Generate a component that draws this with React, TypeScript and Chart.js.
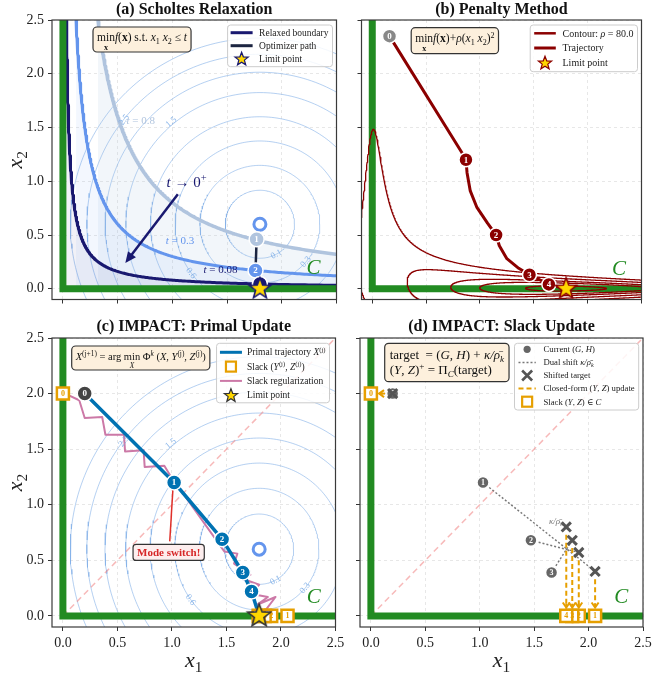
import React, { useEffect, useRef } from 'react';
import { Chart, registerables } from 'chart.js';
Chart.register(...registerables);

const SERIF = "'Liberation Serif', 'DejaVu Serif', 'Times New Roman', serif";

// ---------------- data ----------------
const AXIS_TICKS = [0, 0.5, 1.0, 1.5, 2.0, 2.5];
const AXIS_MIN = -0.1;
const AXIS_MAX = 2.5;

const F_CENTER_X = 1.8;
const F_CENTER_Y = 0.6;
const F_LEVELS = [0.1, 0.3, 0.6, 1.0, 1.5, 2.0, 2.5, 3.0];
const F_LABEL_TEXT = ['0.1', '0.3', '0.6', '1.5', '2.5'];
const F_LABEL_X = [1.95, 2.22, 1.17, 0.99, 0.56];
const F_LABEL_Y = [0.32, 0.25, 0.144, 1.55, 1.57];

const RELAX_T = [0.8, 0.3, 0.08];
const RELAX_COLORS = ['#b0c4de', '#6495ed', '#191970'];
const RELAX_FILLS = ['rgba(176,196,222,0.16)', 'rgba(100,149,237,0.08)', 'rgba(25,25,112,0.06)'];
const RELAX_LABEL_X = [0.71, 1.07, 1.44];
const RELAX_LABEL_Y = [1.565, 0.447, 0.177];
const SCHOLTES_X = [1.77, 1.76, 1.8];
const SCHOLTES_Y = [0.46, 0.17, 0.045];
const LIMIT_X = 1.8;
const LIMIT_Y = 0.0;

const PENALTY_RHO = 80;
const PENALTY_LEVELS = [0.5, 1.0, 1.5, 2.5, 4.0];
const PEN_PATH_X = [0.16, 0.83, 0.87, 0.88, 0.91, 0.97, 1.07, 1.15, 1.18, 1.25, 1.36, 1.46, 1.64, 1.79];
const PEN_PATH_Y = [2.35, 1.27, 1.2, 1.08, 0.91, 0.76, 0.61, 0.5, 0.4, 0.28, 0.19, 0.13, 0.04, 0.005];
const PEN_MARK_X = [0.16, 0.87, 1.15, 1.46, 1.64];
const PEN_MARK_Y = [2.35, 1.2, 0.5, 0.13, 0.04];

const PRIMAL_X = [0.2, 1.02, 1.46, 1.65, 1.73];
const PRIMAL_Y = [2.0, 1.2, 0.69, 0.39, 0.22];
const SLACK_X = [0, 2.06, 1.91, 1.85, 1.795];
const SLACK_Y = [2.0, 0, 0, 0, 0];
const ZIG_X = [0.02, 0.15, 0.2, 0.36, 0.39, 0.56, 0.57, 0.74, 0.75, 0.93, 0.98,
  1.48, 1.6, 1.57, 1.72, 1.66, 1.8, 1.72, 1.88, 1.78, 1.95, 1.85];
const ZIG_Y = [2.0, 1.94, 1.78, 1.79, 1.63, 1.63, 1.48, 1.49, 1.34, 1.35, 1.27,
  0.58, 0.56, 0.47, 0.37, 0.33, 0.28, 0.2, 0.17, 0.1, 0.17, 0.04];
const MODE_LINE_X = [0.98, 1.01];
const MODE_LINE_Y = [0.67, 1.16];
const MODE_BOX_X = 0.97;
const MODE_BOX_Y = 0.571;

const CURRENT_X = [0.2, 1.03, 1.47, 1.66];
const CURRENT_Y = [2.0, 1.2, 0.68, 0.39];
const TARGET_X = [0.2, 2.06, 1.91, 1.85, 1.795];
const TARGET_Y = [2.0, 0.4, 0.57, 0.68, 0.8];
const SHIFT_FROM = [1, 2, 3];
const SHIFT_TO = [1, 2, 3];

const COL = {
  green: '#228B22', navy: '#191970', pathDark: '#1c2541', gold: '#FFD700',
  darkred: '#8B0000', blue: '#0072B2', orange: '#E69F00', pink: '#CC79A7',
  contour: 'rgba(120,170,230,0.55)', diag: 'rgba(240,128,128,0.55)', gray: '#666666', ring: '#6495ED',
};

// ---------------- rich text ----------------
type Seg = { t: string; it?: boolean; b?: boolean; sc?: number; dy?: number; under?: boolean };
const T = (t: string): Seg => ({ t });
const I = (t: string): Seg => ({ t, it: true });
const B = (t: string): Seg => ({ t, b: true });
const SUP = (t: string, it = false): Seg => ({ t, it, sc: 0.7, dy: -0.4 });
const SUB = (t: string, it = false): Seg => ({ t, it, sc: 0.7, dy: 0.22 });
const UNDER = (t: string, it = false, b = false): Seg => ({ t, it, b, sc: 0.7, dy: 0.72, under: true });

function fontOf(s: Seg, size: number) {
  return `${s.it ? 'italic ' : ''}${s.b ? 'bold ' : ''}${(size * (s.sc || 1)).toFixed(2)}px ${SERIF}`;
}
function richWidth(ctx: CanvasRenderingContext2D, segs: Seg[], size: number) {
  let w = 0;
  for (const s of segs) {
    if (s.under) continue;
    ctx.font = fontOf(s, size);
    w += ctx.measureText(s.t).width;
  }
  return w;
}
function drawRich(ctx: CanvasRenderingContext2D, segs: Seg[], x: number, y: number, size: number, color: string, align = 'left') {
  const w = richWidth(ctx, segs, size);
  let cx = align === 'center' ? x - w / 2 : align === 'right' ? x - w : x;
  const base = y + size * 0.33;
  let prevX = cx;
  let prevW = 0;
  ctx.save();
  ctx.fillStyle = color;
  ctx.textBaseline = 'alphabetic';
  ctx.textAlign = 'left';
  for (const s of segs) {
    ctx.font = fontOf(s, size);
    const sw = ctx.measureText(s.t).width;
    if (s.under) {
      ctx.fillText(s.t, prevX + (prevW - sw) / 2, base + (s.dy || 0) * size);
      continue;
    }
    ctx.fillText(s.t, cx, base + (s.dy || 0) * size);
    prevX = cx;
    prevW = sw;
    cx += sw;
  }
  ctx.restore();
  return w;
}

// ---------------- helpers ----------------
function roundRectPath(ctx: CanvasRenderingContext2D, x: number, y: number, w: number, h: number, r: number) {
  ctx.beginPath();
  ctx.moveTo(x + r, y);
  ctx.lineTo(x + w - r, y);
  ctx.arcTo(x + w, y, x + w, y + r, r);
  ctx.lineTo(x + w, y + h - r);
  ctx.arcTo(x + w, y + h, x + w - r, y + h, r);
  ctx.lineTo(x + r, y + h);
  ctx.arcTo(x, y + h, x, y + h - r, r);
  ctx.lineTo(x, y + r);
  ctx.arcTo(x, y, x + r, y, r);
  ctx.closePath();
}
function starPath(ctx: CanvasRenderingContext2D, cx: number, cy: number, r: number) {
  ctx.beginPath();
  for (let i = 0; i < 10; i++) {
    const rr = i % 2 === 0 ? r : r * 0.42;
    const a = -Math.PI / 2 + (i * Math.PI) / 5;
    ctx.lineTo(cx + rr * Math.cos(a), cy + rr * Math.sin(a));
  }
  ctx.closePath();
}
function starImage(r: number, fill: string, edge: string, lw: number) {
  const c = document.createElement('canvas');
  const s = Math.ceil(2 * r + 2 * lw + 4);
  c.width = s;
  c.height = s;
  const g = c.getContext('2d')!;
  starPath(g, s / 2, s / 2, r);
  g.fillStyle = fill;
  g.fill();
  g.lineWidth = lw;
  g.strokeStyle = edge;
  g.lineJoin = 'miter';
  g.stroke();
  return c;
}
function drawArrow(ctx: CanvasRenderingContext2D, x0: number, y0: number, x1: number, y1: number, color: string, lw: number, hl: number, hw: number, filled = true, dash: number[] = []) {
  const ang = Math.atan2(y1 - y0, x1 - x0);
  ctx.save();
  ctx.strokeStyle = color;
  ctx.fillStyle = color;
  ctx.lineWidth = lw;
  ctx.setLineDash(dash);
  ctx.beginPath();
  ctx.moveTo(x0, y0);
  ctx.lineTo(x1 - (filled ? Math.cos(ang) * hl * 0.8 : 0), y1 - (filled ? Math.sin(ang) * hl * 0.8 : 0));
  ctx.stroke();
  ctx.setLineDash([]);
  const bx = x1 - Math.cos(ang) * hl;
  const by = y1 - Math.sin(ang) * hl;
  const px = -Math.sin(ang) * hw;
  const py = Math.cos(ang) * hw;
  ctx.beginPath();
  ctx.moveTo(bx + px, by + py);
  ctx.lineTo(x1, y1);
  ctx.lineTo(bx - px, by - py);
  if (filled) {
    ctx.closePath();
    ctx.fill();
  } else {
    ctx.stroke();
  }
  ctx.restore();
}
function circlePts(r: number) {
  const pts: { x: number; y: number }[] = [];
  for (let i = 0; i <= 240; i++) {
    const a = (i / 240) * 2 * Math.PI;
    pts.push({ x: F_CENTER_X + r * Math.cos(a), y: F_CENTER_Y + r * Math.sin(a) });
  }
  return pts;
}
function hyperbolaPts(t: number) {
  const pts: { x: number; y: number }[] = [];
  const x0 = t / AXIS_MAX;
  const x1 = 2.6;
  for (let i = 0; i <= 300; i++) {
    const x = x0 * Math.pow(x1 / x0, i / 300);
    pts.push({ x, y: t / x });
  }
  return pts;
}
function penaltyCurves(c: number) {
  const cx = F_CENTER_X, cy = F_CENTER_Y, rho = PENALTY_RHO;
  const disc = (x: number) => {
    const a = 1 + rho * x * x;
    const c0 = (x - cx) * (x - cx) + cy * cy - c;
    return 4 * cy * cy - 4 * a * c0;
  };
  const bis = (xa: number, xb: number) => {
    const sa = disc(xa) >= 0;
    for (let k = 0; k < 50; k++) {
      const m = (xa + xb) / 2;
      if ((disc(m) >= 0) === sa) xa = m; else xb = m;
    }
    return sa ? xa : xb;
  };
  const xs0 = -0.5, xs1 = 2.9, N = 1700;
  const intervals: [number, number][] = [];
  let inside = disc(xs0) >= 0;
  let start = xs0;
  let prev = xs0;
  for (let i = 1; i <= N; i++) {
    const x = xs0 + ((xs1 - xs0) * i) / N;
    const d = disc(x);
    if (!inside && d >= 0) { start = bis(prev, x); inside = true; }
    else if (inside && d < 0) { intervals.push([start, bis(prev, x)]); inside = false; }
    prev = x;
  }
  if (inside) intervals.push([start, xs1]);
  const curves: { x: number; y: number }[][] = [];
  for (const [x0, x1] of intervals) {
    const up: { x: number; y: number }[] = [];
    const lo: { x: number; y: number }[] = [];
    const M = 600;
    for (let k = 0; k <= M; k++) {
      const s = k / M;
      const x = x0 + ((x1 - x0) * (1 - Math.cos(Math.PI * s))) / 2;
      const a = 1 + rho * x * x;
      const sq = Math.sqrt(Math.max(0, disc(x)));
      up.push({ x, y: (2 * cy + sq) / (2 * a) });
      lo.push({ x, y: (2 * cy - sq) / (2 * a) });
    }
    curves.push(up.concat(lo.reverse()));
  }
  return curves;
}
const pts = (xs: number[], ys: number[]) => xs.map((x, i) => ({ x, y: ys[i] }));

function lineDs(data: any[], color: string, width: number, extra: any = {}) {
  return { data, showLine: true, borderColor: color, borderWidth: width, pointRadius: 0, fill: false, tension: 0, borderJoinStyle: 'round', ...extra };
}
function markDs(data: any[], fill: any, edge: string, r: number, extra: any = {}) {
  return { data, showLine: false, pointRadius: r, pointBackgroundColor: fill, pointBorderColor: edge, pointBorderWidth: 1.5, pointStyle: 'circle', ...extra };
}
const greenDs = () => lineDs([{ x: 0, y: 2.7 }, { x: 0, y: 0 }, { x: 2.7, y: 0 }], COL.green, 7, { borderJoinStyle: 'miter', borderCapStyle: 'butt' });
const contourDs = () => F_LEVELS.map((l) => lineDs(circlePts(Math.sqrt(l)), COL.contour, 1));
const diagDs = () => lineDs([{ x: 0, y: 0 }, { x: 2.6, y: 2.6 }], COL.diag, 1.5, { borderDash: [6, 4] });

// ---------------- legend / annotation ----------------
type LegendItem = { kind: string; color: string; width?: number; dash?: number[]; edge?: string; segs: Seg[] };
function drawLegend(ctx: CanvasRenderingContext2D, right: number, top: number, items: LegendItem[], o: any) {
  let tw = 0;
  for (const it of items) tw = Math.max(tw, richWidth(ctx, it.segs, o.size));
  const w = o.padL + o.handle + o.gap + tw + o.padR;
  const h = o.padT + o.row * (items.length - 1) + o.padB;
  const left = right - w;
  ctx.save();
  roundRectPath(ctx, left, top, w, h, 3);
  ctx.fillStyle = 'rgba(255,255,255,0.85)';
  ctx.fill();
  ctx.strokeStyle = '#cccccc';
  ctx.lineWidth = 1;
  ctx.stroke();
  items.forEach((it, i) => {
    const cy = top + o.padT + i * o.row;
    const hx0 = left + o.padL;
    const hx1 = hx0 + o.handle;
    const hc = (hx0 + hx1) / 2;
    ctx.save();
    if (it.kind === 'line') {
      ctx.strokeStyle = it.color;
      ctx.lineWidth = it.width || 3;
      ctx.setLineDash(it.dash || []);
      ctx.beginPath();
      ctx.moveTo(hx0, cy);
      ctx.lineTo(hx1, cy);
      ctx.stroke();
    } else if (it.kind === 'star') {
      starPath(ctx, hc, cy + 0.5, 7);
      ctx.fillStyle = it.color;
      ctx.fill();
      ctx.strokeStyle = it.edge || '#333';
      ctx.lineWidth = 1.2;
      ctx.stroke();
    } else if (it.kind === 'square') {
      ctx.fillStyle = '#fff';
      ctx.fillRect(hc - 5, cy - 5, 10, 10);
      ctx.strokeStyle = it.color;
      ctx.lineWidth = 2.2;
      ctx.strokeRect(hc - 5, cy - 5, 10, 10);
    } else if (it.kind === 'dot') {
      ctx.beginPath();
      ctx.arc(hc, cy, 3.6, 0, Math.PI * 2);
      ctx.fillStyle = it.color;
      ctx.fill();
    } else if (it.kind === 'x') {
      ctx.strokeStyle = it.color;
      ctx.lineWidth = 2.6;
      ctx.beginPath();
      ctx.moveTo(hc - 5, cy - 5); ctx.lineTo(hc + 5, cy + 5);
      ctx.moveTo(hc - 5, cy + 5); ctx.lineTo(hc + 5, cy - 5);
      ctx.stroke();
    }
    ctx.restore();
    drawRich(ctx, it.segs, hx1 + o.gap, cy, o.size, '#222');
  });
  ctx.restore();
}
function drawAnnot(ctx: CanvasRenderingContext2D, left: number, top: number, lines: Seg[][], size: number, o: any) {
  const tw = Math.max(...lines.map((l) => richWidth(ctx, l, size)));
  const w = tw + 2 * o.padX;
  ctx.save();
  roundRectPath(ctx, left, top, w, o.h, 4);
  ctx.fillStyle = o.fill || '#fdf0dd';
  ctx.fill();
  ctx.strokeStyle = o.stroke || '#333';
  ctx.lineWidth = 1.2;
  ctx.stroke();
  const lh = o.lineH || size * 1.2;
  const cy0 = top + o.h / 2 - ((lines.length - 1) * lh) / 2 + (o.dy || 0);
  lines.forEach((l, i) => drawRich(ctx, l, left + o.padX, cy0 + i * lh, size, o.color || '#111'));
  ctx.restore();
}
function drawContourLabels(ctx: CanvasRenderingContext2D, X: any, Y: any) {
  ctx.save();
  ctx.fillStyle = 'rgba(120,170,230,0.85)';
  ctx.font = `9px ${SERIF}`;
  ctx.textAlign = 'center';
  ctx.textBaseline = 'middle';
  F_LABEL_TEXT.forEach((t, i) => {
    const px = X(F_LABEL_X[i]);
    const py = Y(F_LABEL_Y[i]);
    const vx = px - X(F_CENTER_X);
    const vy = py - Y(F_CENTER_Y);
    let ang = Math.atan2(vx, -vy);
    if (ang > Math.PI / 2) ang -= Math.PI;
    if (ang < -Math.PI / 2) ang += Math.PI;
    ctx.save();
    ctx.translate(px, py);
    ctx.rotate(ang);
    ctx.fillText(t, 0, 0);
    ctx.restore();
  });
  ctx.restore();
}
function drawCLabel(ctx: CanvasRenderingContext2D, X: any, Y: any, x: number, y: number) {
  ctx.save();
  ctx.font = `italic 21px ${SERIF}`;
  ctx.fillStyle = COL.green;
  ctx.textAlign = 'center';
  ctx.textBaseline = 'middle';
  ctx.fillText('C', X(x), Y(y));
  ctx.restore();
}

// ---------------- panels ----------------
const starNavy = () => starImage(11, COL.gold, COL.navy, 1.6);
const starRed = () => starImage(11, COL.gold, COL.darkred, 1.6);
const starDark = () => starImage(12, COL.gold, '#333333', 1.6);

function panelA() {
  const ds: any[] = [];
  ds.push(...contourDs());
  RELAX_T.forEach((t, i) => ds.push(lineDs(hyperbolaPts(t), RELAX_COLORS[i], i === 0 ? 3.5 : 3, { fill: 'origin', backgroundColor: RELAX_FILLS[i] })));
  ds.push(greenDs());
  ds.push(lineDs(pts(SCHOLTES_X, SCHOLTES_Y), COL.pathDark, 2.5));
  ds.push(markDs([{ x: F_CENTER_X, y: F_CENTER_Y }], 'rgba(0,0,0,0)', COL.ring, 6, { pointBorderWidth: 3 }));
  ds.push(markDs(pts(SCHOLTES_X, SCHOLTES_Y), RELAX_COLORS, '#ffffff', 7.5, { markLabels: ['1', '2', '3'] }));
  ds.push(markDs([{ x: LIMIT_X, y: LIMIT_Y }], COL.gold, COL.navy, 11, { pointStyle: starNavy() }));
  const draw = (ctx: CanvasRenderingContext2D, X: any, Y: any, a: any) => {
    drawContourLabels(ctx, X, Y);
    RELAX_T.forEach((t, i) => drawRich(ctx, [I('t'), T(' = ' + t)], X(RELAX_LABEL_X[i]), Y(RELAX_LABEL_Y[i]), 11, RELAX_COLORS[i], 'center'));
    drawArrow(ctx, X(1.05), Y(0.88), X(0.57), Y(0.24), COL.navy, 2.5, 11, 5);
    drawRich(ctx, [I('t'), T(' → 0'), SUP('+')], X(1.13), Y(0.99), 15, COL.navy, 'center');
    drawCLabel(ctx, X, Y, 2.29, 0.19);
    drawAnnot(ctx, a.left + 41, a.top + 7, [[T('min'), UNDER('x', false, true), I('f'), T('('), B('x'), T(') s.t. '), I('x'), SUB('1'), T(' '), I('x'), SUB('2'), T(' ≤ '), I('t')]], 11.5, { padX: 4, h: 25, dy: -2 });
    drawLegend(ctx, a.right - 4, a.top + 5, [
      { kind: 'line', color: COL.navy, width: 3, segs: [T('Relaxed boundary')] },
      { kind: 'line', color: COL.pathDark, width: 3, segs: [T('Optimizer path')] },
      { kind: 'star', color: COL.gold, edge: COL.navy, segs: [T('Limit point')] },
    ], { size: 9.5, row: 13, handle: 22, padL: 3, gap: 6.5, padR: 4, padT: 7.7, padB: 8 });
  };
  return { ds, draw, title: '(a) Scholtes Relaxation' };
}

function panelB() {
  const ds: any[] = [];
  ds.push(greenDs());
  PENALTY_LEVELS.forEach((l) => penaltyCurves(l).forEach((c) => ds.push(lineDs(c, COL.darkred, 1.3))));
  ds.push(lineDs(pts(PEN_PATH_X, PEN_PATH_Y), COL.darkred, 3));
  ds.push(markDs(pts(PEN_MARK_X, PEN_MARK_Y), ['#888888', COL.darkred, COL.darkred, COL.darkred, COL.darkred], '#ffffff', 7, { markLabels: ['0', '1', '2', '3', '4'] }));
  ds.push(markDs([{ x: LIMIT_X, y: LIMIT_Y }], COL.gold, COL.darkred, 11, { pointStyle: starRed() }));
  const draw = (ctx: CanvasRenderingContext2D, X: any, Y: any, a: any) => {
    drawCLabel(ctx, X, Y, 2.29, 0.18);
    drawAnnot(ctx, a.left + 49.7, a.top + 7.7, [[T('min'), UNDER('x', false, true), I('f'), T('('), B('x'), T(')+'), I('ρ'), T('('), I('x'), SUB('1'), T(' '), I('x'), SUB('2'), T(')'), SUP('2')]], 11.5, { padX: 4, h: 26, dy: -2 });
    drawLegend(ctx, a.right - 4, a.top + 5, [
      { kind: 'line', color: COL.darkred, width: 2.5, segs: [T('Contour: '), I('ρ'), T(' = 80.0')] },
      { kind: 'line', color: COL.darkred, width: 3, segs: [T('Trajectory')] },
      { kind: 'star', color: COL.gold, edge: COL.darkred, segs: [T('Limit point')] },
    ], { size: 10, row: 14.7, handle: 21.6, padL: 4, gap: 6.7, padR: 4, padT: 8.3, padB: 9 });
  };
  return { ds, draw, title: '(b) Penalty Method' };
}

function panelC() {
  const ds: any[] = [];
  ds.push(...contourDs());
  ds.push(diagDs());
  ds.push(greenDs());
  ds.push(lineDs(pts(ZIG_X, ZIG_Y), COL.pink, 2));
  ds.push(lineDs(pts(PRIMAL_X.concat([LIMIT_X]), PRIMAL_Y.concat([LIMIT_Y])), COL.blue, 3.5));
  ds.push(lineDs(pts(MODE_LINE_X, MODE_LINE_Y), '#e0302a', 1.5));
  ds.push(markDs(pts(PRIMAL_X, PRIMAL_Y), ['#444444', COL.blue, COL.blue, COL.blue, COL.blue], '#ffffff', 7.5, { markLabels: ['0', '1', '2', '3', '4'] }));
  ds.push(markDs(pts(SLACK_X, SLACK_Y), '#ffffff', COL.orange, 8.5, { pointStyle: 'rect', pointBorderWidth: 2.5, markLabels: ['0', '1', '2', '3', '4'], markColor: COL.orange, markFont: 8 }));
  ds.push(markDs([{ x: F_CENTER_X, y: F_CENTER_Y }], 'rgba(0,0,0,0)', COL.ring, 6, { pointBorderWidth: 3 }));
  ds.push(markDs([{ x: LIMIT_X, y: LIMIT_Y }], COL.gold, '#333', 12, { pointStyle: starDark() }));
  const draw = (ctx: CanvasRenderingContext2D, X: any, Y: any, a: any) => {
    drawContourLabels(ctx, X, Y);
    drawCLabel(ctx, X, Y, 2.3, 0.17);
    const segs = [B('Mode switch!')];
    ctx.save();
    const w = richWidth(ctx, segs, 11) + 8;
    const cx = X(MODE_BOX_X), cy = Y(MODE_BOX_Y);
    roundRectPath(ctx, cx - w / 2, cy - 8, w, 16, 3);
    ctx.fillStyle = '#fdeeee';
    ctx.fill();
    ctx.strokeStyle = '#333';
    ctx.lineWidth = 1.2;
    ctx.stroke();
    ctx.restore();
    drawRich(ctx, segs, cx, cy, 11, '#d62728', 'center');
    drawAnnot(ctx, a.left + 19.7, a.top + 8, [[I('X'), SUP('(j+1)'), T(' = arg '), T('min'), UNDER('X', true), T(' Φ'), SUP('k', true), T(' ('), I('X'), T(', '), I('Y'), SUP('(j)'), T(', '), I('Z'), SUP('(j)'), T(')')]], 10.5, { padX: 4, h: 24, dy: -1.5 });
    drawLegend(ctx, a.right - 6, a.top + 5.3, [
      { kind: 'line', color: COL.blue, width: 3, segs: [T('Primal trajectory '), I('X'), SUP('(j)')] },
      { kind: 'square', color: COL.orange, segs: [T('Slack ('), I('Y'), SUP('(j)'), T(', '), I('Z'), SUP('(j)'), T(')')] },
      { kind: 'line', color: COL.pink, width: 2, segs: [T('Slack regularization')] },
      { kind: 'star', color: COL.gold, edge: '#333', segs: [T('Limit point')] },
    ], { size: 9.5, row: 14.3, handle: 22, padL: 3.4, gap: 5, padR: 4, padT: 9, padB: 7.6 });
  };
  return { ds, draw, title: '(c) IMPACT: Primal Update' };
}

function panelD() {
  const ds: any[] = [];
  ds.push(diagDs());
  ds.push(greenDs());
  SHIFT_FROM.forEach((f, i) => ds.push(lineDs([{ x: CURRENT_X[f], y: CURRENT_Y[f] }, { x: TARGET_X[SHIFT_TO[i]], y: TARGET_Y[SHIFT_TO[i]] }], '#777777', 1.4, { borderDash: [2, 2] })));
  TARGET_X.forEach((x, i) => {
    if (i === 0) ds.push(lineDs([{ x: x - 0.07, y: TARGET_Y[i] }, { x: SLACK_X[i] + 0.1, y: SLACK_Y[i] }], COL.orange, 2, { borderDash: [5, 3] }));
    else ds.push(lineDs([{ x, y: TARGET_Y[i] - 0.07 }, { x: SLACK_X[i], y: SLACK_Y[i] + 0.1 }], COL.orange, 2, { borderDash: [5, 3] }));
  });
  ds.push(markDs(pts(CURRENT_X, CURRENT_Y), '#666666', '#ffffff', 6, { markLabels: ['0', '1', '2', '3'], markFont: 8 }));
  ds.push(markDs(pts(TARGET_X, TARGET_Y), '#555555', '#555555', 6.5, { pointStyle: 'crossRot', pointBorderWidth: 3 }));
  ds.push(markDs(pts(SLACK_X, SLACK_Y), '#ffffff', COL.orange, 8.5, { pointStyle: 'rect', pointBorderWidth: 2.5, markLabels: ['0', '1', '2', '3', '4'], markColor: COL.orange, markFont: 8 }));
  const draw = (ctx: CanvasRenderingContext2D, X: any, Y: any, a: any) => {
    TARGET_X.forEach((x, i) => {
      if (i === 0) drawArrow(ctx, X(SLACK_X[i] + 0.11), Y(SLACK_Y[i]), X(SLACK_X[i] + 0.075), Y(SLACK_Y[i]), COL.orange, 2, 5, 3.5, false);
      else drawArrow(ctx, X(x), Y(SLACK_Y[i] + 0.11), X(x), Y(SLACK_Y[i] + 0.075), COL.orange, 2, 5, 3.5, false);
    });
    drawRich(ctx, [I('κ/ρ̄'), SUB('k', true)], X(1.7), Y(0.85), 9, '#777777', 'center');
    drawCLabel(ctx, X, Y, 2.3, 0.17);
    drawAnnot(ctx, a.left + 24.7, a.top + 5.3, [
      [T('target  = ('), I('G'), T(', '), I('H'), T(') + '), I('κ/ρ̄'), SUB('k', true)],
      [T('('), I('Y'), T(', '), I('Z'), T(')'), SUP('+'), T(' = Π'), SUB('C', true), T('(target)')],
    ], 13, { padX: 5, h: 38.4, lineH: 15 });
    drawLegend(ctx, a.right - 4.3, a.top + 5.3, [
      { kind: 'dot', color: '#666666', segs: [T('Current ('), I('G'), T(', '), I('H'), T(')')] },
      { kind: 'line', color: '#777777', width: 1.5, dash: [2, 2], segs: [T('Dual shift '), I('κ/ρ̄'), SUB('k', true)] },
      { kind: 'x', color: '#555555', segs: [T('Shifted target')] },
      { kind: 'line', color: COL.orange, width: 2, dash: [5, 3], segs: [T('Closed-form ('), I('Y'), T(', '), I('Z'), T(') update')] },
      { kind: 'square', color: COL.orange, segs: [T('Slack ('), I('Y'), T(', '), I('Z'), T(') ∈ '), I('C')] },
    ], { size: 8.7, row: 13.1, handle: 17.3, padL: 4, gap: 7.7, padR: 4, padT: 6, padB: 8.3 });
  };
  return { ds, draw, title: '(d) IMPACT: Slack Update' };
}

// ---------------- chart plumbing ----------------
function axisOpts(horizontal: boolean, showLabels: boolean, size: number) {
  return {
    type: 'linear',
    min: AXIS_MIN,
    max: AXIS_MAX,
    afterBuildTicks: (s: any) => { s.ticks = AXIS_TICKS.map((v) => ({ value: v })); },
    afterFit: (s: any) => {
      if (horizontal) s.height = size; else s.width = size;
      s.paddingLeft = 0; s.paddingRight = 0; s.paddingTop = 0; s.paddingBottom = 0;
    },
    ticks: { display: showLabels, autoSkip: false, maxRotation: 0, minRotation: 0, padding: 4, color: '#222', font: { family: SERIF, size: 14 }, callback: (v: any) => Number(v).toFixed(1) },
    grid: { color: 'rgba(0,0,0,0.12)', lineWidth: 0.8, tickLength: 4, tickColor: '#333', tickWidth: 1, drawTicks: true },
    border: { display: false, dash: [3, 3] },
  };
}

type Spec = { key: string; left: number; top: number; w: number; h: number; area: number[]; showX: boolean; showY: boolean; titleY: number; build: () => any };

const SPECS: Spec[] = [
  { key: 'a', left: 0, top: 0, w: 349, h: 312, area: [52, 20, 341, 309], showX: false, showY: true, titleY: 10, build: panelA },
  { key: 'b', left: 349, top: 0, w: 305, h: 312, area: [8, 20, 297, 309], showX: false, showY: false, titleY: 10, build: panelB },
  { key: 'c', left: 0, top: 312, w: 349, h: 363, area: [52, 26, 341, 315], showX: true, showY: true, titleY: 15, build: panelC },
  { key: 'd', left: 349, top: 312, w: 305, h: 363, area: [8, 26, 297, 315], showX: true, showY: false, titleY: 15, build: panelD },
];

function makeConfig(sp: Spec) {
  const p = sp.build();
  const [L, Tp, R, Bt] = sp.area;
  const YW = sp.showY ? 40 : 4;
  const XH = sp.showX ? 30 : 3;
  const overlay = {
    id: 'overlay_' + sp.key,
    afterDatasetDraw(chart: any, args: any) {
      const ds = chart.data.datasets[args.index];
      if (!ds.markLabels) return;
      const ctx = chart.ctx;
      ctx.save();
      ctx.font = `bold ${ds.markFont || 9}px ${SERIF}`;
      ctx.fillStyle = ds.markColor || '#ffffff';
      ctx.textAlign = 'center';
      ctx.textBaseline = 'middle';
      args.meta.data.forEach((el: any, i: number) => {
        const t = ds.markLabels[i];
        if (t) ctx.fillText(t, el.x, el.y + 0.5);
      });
      ctx.restore();
    },
    afterDraw(chart: any) {
      const ctx: CanvasRenderingContext2D = chart.ctx;
      const a = chart.chartArea;
      const X = (v: number) => chart.scales.x.getPixelForValue(v);
      const Y = (v: number) => chart.scales.y.getPixelForValue(v);
      ctx.save();
      ctx.strokeStyle = '#3a3a3a';
      ctx.lineWidth = 1.2;
      ctx.strokeRect(a.left, a.top, a.right - a.left, a.bottom - a.top);
      ctx.restore();
      p.draw(ctx, X, Y, a);
      ctx.save();
      ctx.font = `bold 16px ${SERIF}`;
      ctx.fillStyle = '#111';
      ctx.textAlign = 'center';
      ctx.textBaseline = 'middle';
      ctx.fillText(p.title, (a.left + a.right) / 2, sp.titleY);
      ctx.restore();
      if (sp.showY) {
        ctx.save();
        ctx.translate(15, (a.top + a.bottom) / 2);
        ctx.rotate(-Math.PI / 2);
        drawRich(ctx, [I('x'), SUB('2')], 0, 0, 22, '#222', 'center');
        ctx.restore();
      }
      if (sp.showX) {
        drawRich(ctx, [I('x'), SUB('1')], (a.left + a.right) / 2, 348, 22, '#222', 'center');
      }
    },
  };
  return {
    type: 'scatter',
    data: { datasets: p.ds.slice().reverse() },
    options: {
      responsive: false,
      animation: false,
      events: [],
      layout: { padding: { left: L - YW, top: Tp, right: sp.w - R, bottom: sp.h - Bt - XH } },
      plugins: { legend: { display: false }, tooltip: { enabled: false }, title: { display: false } },
      scales: { x: axisOpts(true, sp.showX, XH), y: axisOpts(false, sp.showY, YW) },
    },
    plugins: [overlay],
  };
}

function Panel({ spec }: { spec: Spec }) {
  const ref = useRef<HTMLCanvasElement>(null);
  useEffect(() => {
    const chart = new Chart(ref.current as HTMLCanvasElement, makeConfig(spec) as any);
    return () => chart.destroy();
  }, []);
  return <canvas ref={ref} width={spec.w} height={spec.h} style={{ position: 'absolute', left: spec.left, top: spec.top, width: spec.w, height: spec.h }} />;
}

export default function App() {
  return (
    <div style={{ position: 'absolute', left: 0, top: 0, width: 654, height: 675, background: '#ffffff', overflow: 'hidden' }}>
      {SPECS.map((s) => <Panel key={s.key} spec={s} />)}
    </div>
  );
}
